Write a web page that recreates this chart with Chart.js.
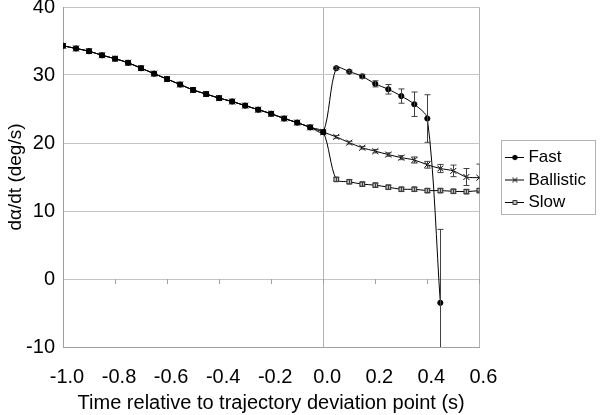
<!DOCTYPE html>
<html>
<head>
<meta charset="utf-8">
<script src="https://cdn.jsdelivr.net/npm/chart.js"></script>
<style>
  html, body { margin: 0; padding: 0; background: #fff; }
</style>
</head>
<body>
<canvas id="chart" width="600" height="415"></canvas>
<script>
    // time axis (s), one sample every 0.05 s
    var times = [-1.0, -0.95, -0.9, -0.85, -0.8, -0.75, -0.7, -0.65, -0.6, -0.55, -0.5, -0.45, -0.4, -0.35, -0.3, -0.25, -0.2, -0.15, -0.1, -0.05,
                 0.0, 0.05, 0.1, 0.15, 0.2, 0.25, 0.3, 0.35, 0.4, 0.45, 0.5, 0.55, 0.6];
    // all three conditions share the same trace up to the deviation point (-1.0 .. 0.0)
    var beforeDeviation = [34.3, 33.9, 33.5, 32.9, 32.4, 31.8, 31.0, 30.2, 29.4, 28.6, 27.8, 27.2, 26.6, 26.1, 25.5, 24.9, 24.3, 23.6, 23.0, 22.3, 21.6];
    // after the deviation point (0.05 ..)
    var fastAfter = [31.0, 30.5, 29.8, 28.7, 27.9, 26.9, 25.7, 23.6, -3.5];
    var ballisticAfter = [20.9, 20.05, 19.3, 18.8, 18.3, 17.85, 17.5, 16.8, 16.25, 15.9, 15.0, 14.9];
    var slowAfter = [14.65, 14.3, 13.95, 13.8, 13.5, 13.2, 13.2, 13.0, 13.0, 12.9, 12.85, 13.0];
    // error bar half-lengths for the points after the deviation point
    var fastErr = [0.2, 0.2, 0.3, 0.45, 0.7, 1.05, 1.8, 3.5, 10.8];
    var ballisticErr = [0.2, 0.2, 0.2, 0.25, 0.25, 0.3, 0.45, 0.5, 0.6, 0.85, 1.25, 2.0];
    var slowErr = [0.3, 0.3, 0.3, 0.3, 0.3, 0.3, 0.3, 0.3, 0.3, 0.3, 0.3, 0.3];

    var FONT = "'Liberation Sans', Arial, Helvetica, sans-serif";
    Chart.defaults.font.family = FONT;
    Chart.defaults.color = "#000";

    function series(after) {
        var values = beforeDeviation.concat(after);
        return values.map(function(v, i) { return { x: times[i], y: v }; });
    }
    function errors(after) {
        return beforeDeviation.map(function() { return 0; }).concat(after);
    }

    var markers = [
        { pointStyle: "circle", radius: 2.6, fill: "#000", stroke: "#000" },
        { pointStyle: "crossRot", radius: 4.2, fill: "#000", stroke: "#000" },
        { pointStyle: "rect", radius: 3.3, fill: "#bdbdbd", stroke: "#303030" }
    ];

    // little "line + marker" pictures for the legend
    function legendIcon(m) {
        var c = document.createElement("canvas");
        c.width = 19; c.height = 11;
        var g = c.getContext("2d");
        g.strokeStyle = "#000"; g.lineWidth = 1;
        g.beginPath(); g.moveTo(0, 5.5); g.lineTo(19, 5.5); g.stroke();
        g.fillStyle = m.fill; g.strokeStyle = m.stroke;
        Chart.helpers.drawPoint(g, { pointStyle: m.pointStyle, radius: m.radius * 0.85, rotation: 0, borderWidth: 1 }, 9.5, 5.5);
        return c;
    }
    var legendIcons = markers.map(legendIcon);

    var errorBarPlugin = {
        id: "errorBars",
        beforeDatasetsDraw: function(chart) {
            // small tick marks hanging under the y = 0 axis line
            var ctx = chart.ctx, xs = chart.scales.x, y0 = chart.scales.y.getPixelForValue(0);
            ctx.save();
            ctx.strokeStyle = "#a0a0a0"; ctx.lineWidth = 1;
            xs.ticks.forEach(function(t) {
                var x = Math.round(xs.getPixelForValue(t.value)) + 0.5;
                ctx.beginPath(); ctx.moveTo(x, y0); ctx.lineTo(x, y0 + 5); ctx.stroke();
            });
            ctx.restore();
        },
        afterDatasetsDraw: function(chart) {
            var ctx = chart.ctx, area = chart.chartArea, ys = chart.scales.y;
            ctx.save();
            ctx.beginPath();
            ctx.rect(area.left, area.top, area.right - area.left, area.bottom - area.top);
            ctx.clip();
            ctx.strokeStyle = "#404040"; ctx.lineWidth = 1;
            chart.data.datasets.forEach(function(ds, i) {
                if (!ds.errorBars) return;
                var meta = chart.getDatasetMeta(i);
                ds.errorBars.forEach(function(err, j) {
                    if (!err || !meta.data[j]) return;
                    var v = ds.data[j].y;
                    var x = Math.round(meta.data[j].x) + 0.5;
                    var top = ys.getPixelForValue(v + err), bot = ys.getPixelForValue(v - err);
                    ctx.beginPath();
                    ctx.moveTo(x, top); ctx.lineTo(x, bot);
                    ctx.moveTo(x - 3, top); ctx.lineTo(x + 3, top);
                    ctx.moveTo(x - 3, bot); ctx.lineTo(x + 3, bot);
                    ctx.stroke();
                });
            });
            ctx.restore();
        },
        afterDraw: function(chart) {
            // frame round the legend
            var lg = chart.legend, hb = lg.legendHitBoxes, ctx = chart.ctx;
            if (!hb || !hb.length) return;
            var last = hb[hb.length - 1];
            var l = Math.round(hb[0].left - 9) + 0.5, t = Math.round(hb[0].top - 9) + 0.5;
            var r = Math.round(lg.right - 1) + 0.5, b = Math.round(last.top + last.height + 3) + 0.5;
            ctx.save();
            ctx.strokeStyle = "#b4b4b4"; ctx.lineWidth = 1;
            ctx.strokeRect(l, t, r - l, b - t);
            ctx.restore();
        }
    };

    function makeDataset(label, after, err, m) {
        return {
            label: label,
            data: series(after),
            errorBars: errors(err),
            borderColor: "#000",
            backgroundColor: m.fill,
            borderWidth: 1,
            tension: 0.3,
            fill: false,
            pointStyle: m.pointStyle,
            pointRadius: m.radius,
            pointBackgroundColor: m.fill,
            pointBorderColor: m.stroke,
            pointBorderWidth: 1
        };
    }

    new Chart(document.getElementById("chart").getContext("2d"), {
        type: "line",
        data: {
            datasets: [
                makeDataset("Fast", fastAfter, fastErr, markers[0]),
                makeDataset("Ballistic", ballisticAfter, ballisticErr, markers[1]),
                makeDataset("Slow", slowAfter, slowErr, markers[2])
            ]
        },
        plugins: [errorBarPlugin],
        options: {
            responsive: false,
            animation: false,
            events: [],
            layout: { padding: { top: 7, right: 4, left: 0, bottom: 0 } },
            plugins: {
                tooltip: { enabled: false },
                legend: {
                    position: "right",
                    fullSize: false,
                    title: { display: true, text: " ", padding: 0, font: { size: 5, lineHeight: 1.2 } },
                    labels: {
                        usePointStyle: true,
                        pointStyleWidth: 10,
                        padding: 5.5,
                        color: "#000",
                        font: { size: 17 },
                        generateLabels: function(chart) {
                            var items = Chart.defaults.plugins.legend.labels.generateLabels(chart);
                            items.forEach(function(it, i) { it.pointStyle = legendIcons[i]; });
                            return items;
                        }
                    }
                }
            },
            scales: {
                x: {
                    type: "linear",
                    min: -1,
                    max: 0.6,
                    border: { color: "#a0a0a0" },
                    grid: {
                        drawTicks: false,
                        color: function(c) {
                            var v = c.tick ? c.tick.value : null;
                            return (v !== null && (Math.abs(v) < 1e-6 || Math.abs(v - 0.6) < 1e-6)) ? "#b4b4b4" : "rgba(0,0,0,0)";
                        }
                    },
                    ticks: {
                        stepSize: 0.2,
                        padding: 18,
                        labelOffset: 4,
                        maxRotation: 0,
                        autoSkip: false,
                        color: "#000",
                        font: { size: 20 },
                        callback: function(v) { return Math.abs(v) < 1e-9 ? "0.0" : Number(v).toFixed(1); }
                    },
                    title: {
                        display: true,
                        text: "Time relative to trajectory deviation point (s)",
                        color: "#000",
                        font: { size: 20 },
                        padding: { top: 4, bottom: 0 }
                    },
                    afterFit: function(s) { s.height = 68; }
                },
                y: {
                    min: -10,
                    max: 40,
                    border: { color: "#a0a0a0" },
                    grid: { drawTicks: false, color: "#c4c4c4" },
                    ticks: { stepSize: 10, padding: 8, color: "#000", font: { size: 20 } },
                    title: {
                        display: true,
                        text: "dα/dt (deg/s)",
                        color: "#000",
                        font: { size: 19 },
                        padding: { top: 4, bottom: 0 }
                    },
                    afterFit: function(s) { s.width = 63; s.paddingTop = 0; }
                },
                gap: {
                    type: "linear",
                    axis: "y",
                    position: "right",
                    grid: { display: false, drawTicks: false },
                    border: { display: false },
                    ticks: { display: false },
                    afterFit: function(s) { s.width = 25; }
                }
            }
        }
    });
</script>
</body>
</html>
